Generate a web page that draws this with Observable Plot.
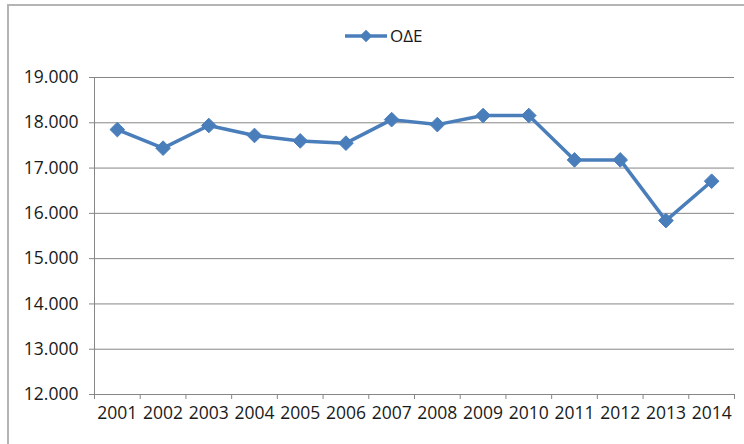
<!DOCTYPE html>
<html>
<head>
<meta charset="utf-8">
<script src="https://cdn.jsdelivr.net/npm/d3@7"></script>
<script src="https://cdn.jsdelivr.net/npm/@observablehq/plot@0.6"></script>
<style>
  html, body { margin: 0; padding: 0; background: #fff; }
  #wrap { position: relative; width: 744px; height: 444px; overflow: hidden; font-family: "Open Sans", sans-serif; }
  #frame { position: absolute; left: 7px; top: 4px; width: 760px; height: 460px; border-left: 2px solid #b4b4b4; border-top: 2px solid #b4b4b4; box-sizing: border-box; }
  #legend { position: absolute; left: 345px; top: 24px; display: flex; align-items: center; font-size: 17px; color: #1a1a1a; }
  #legend svg { display: block; }
  #chart { position: absolute; left: 0; top: 0; }
  #chart svg text { font-family: "Open Sans", sans-serif; font-size: 17.5px; }
</style>
</head>
<body>
<div id="wrap">
  <div id="frame"></div>
  <div id="chart"></div>
  <div id="legend"></div>
</div>
<script>
const years = [2001, 2002, 2003, 2004, 2005, 2006, 2007, 2008, 2009, 2010, 2011, 2012, 2013, 2014];
const values = [17850, 17440, 17940, 17720, 17600, 17550, 18070, 17960, 18160, 18160, 17180, 17180, 15840, 16710];
const seriesName = "ΟΔΕ";
const yTicks = [12000, 13000, 14000, 15000, 16000, 17000, 18000, 19000];

const color = "#4a7ebb";
const data = years.map((y, i) => ({year: y, value: values[i]}));
const boundaries = [years[0] - 0.5, ...years.map(y => y + 0.5)];
const fmt = d => d3.format(",")(d).replace(/,/g, ".");

const chart = Plot.plot({
  width: 744,
  height: 444,
  marginLeft: 94,
  marginRight: 10,
  marginTop: 77,
  marginBottom: 50,
  style: {fontFamily: "'Open Sans', sans-serif", fontSize: "17px", color: "#1a1a1a", background: "transparent"},
  x: {domain: [years[0] - 0.5, years[years.length - 1] + 0.5]},
  y: {domain: [12000, 19000]},
  marks: [
    Plot.gridY(yTicks, {stroke: "#868686", strokeOpacity: 1}),
    Plot.ruleX([years[0] - 0.5], {stroke: "#868686"}),
    Plot.axisY({ticks: yTicks, tickFormat: fmt, tickSize: 5, tickPadding: 11, stroke: "#868686", label: null, fill: "#1a1a1a"}),
    Plot.axisX({ticks: boundaries, tickFormat: () => "", tickSize: 5, stroke: "#868686", label: null}),
    Plot.axisX({ticks: years, tickFormat: d => String(d), tickSize: 0, tickPadding: 12, label: null, fill: "#1a1a1a"}),
    Plot.ruleY([12000], {stroke: "#868686"}),
    Plot.line(data, {x: "year", y: "value", stroke: color, strokeWidth: 3.5}),
    Plot.dot(data, {x: "year", y: "value", symbol: "diamond2", r: 6.6, fill: color, stroke: color, strokeWidth: 1})
  ]
});
document.getElementById("chart").appendChild(chart);

// legend
const leg = document.getElementById("legend");
const sw = d3.create("svg").attr("width", 44).attr("height", 20);
sw.append("line").attr("x1", 0).attr("x2", 42).attr("y1", 10).attr("y2", 10).attr("stroke", color).attr("stroke-width", 3.5);
sw.append("path").attr("d", d3.symbol(d3.symbolDiamond2, 100)()).attr("transform", "translate(21,10)").attr("fill", color);
leg.appendChild(sw.node());
const t = document.createElement("span");
t.textContent = seriesName;
t.style.marginLeft = "1px";
leg.appendChild(t);
</script>
</body>
</html>
